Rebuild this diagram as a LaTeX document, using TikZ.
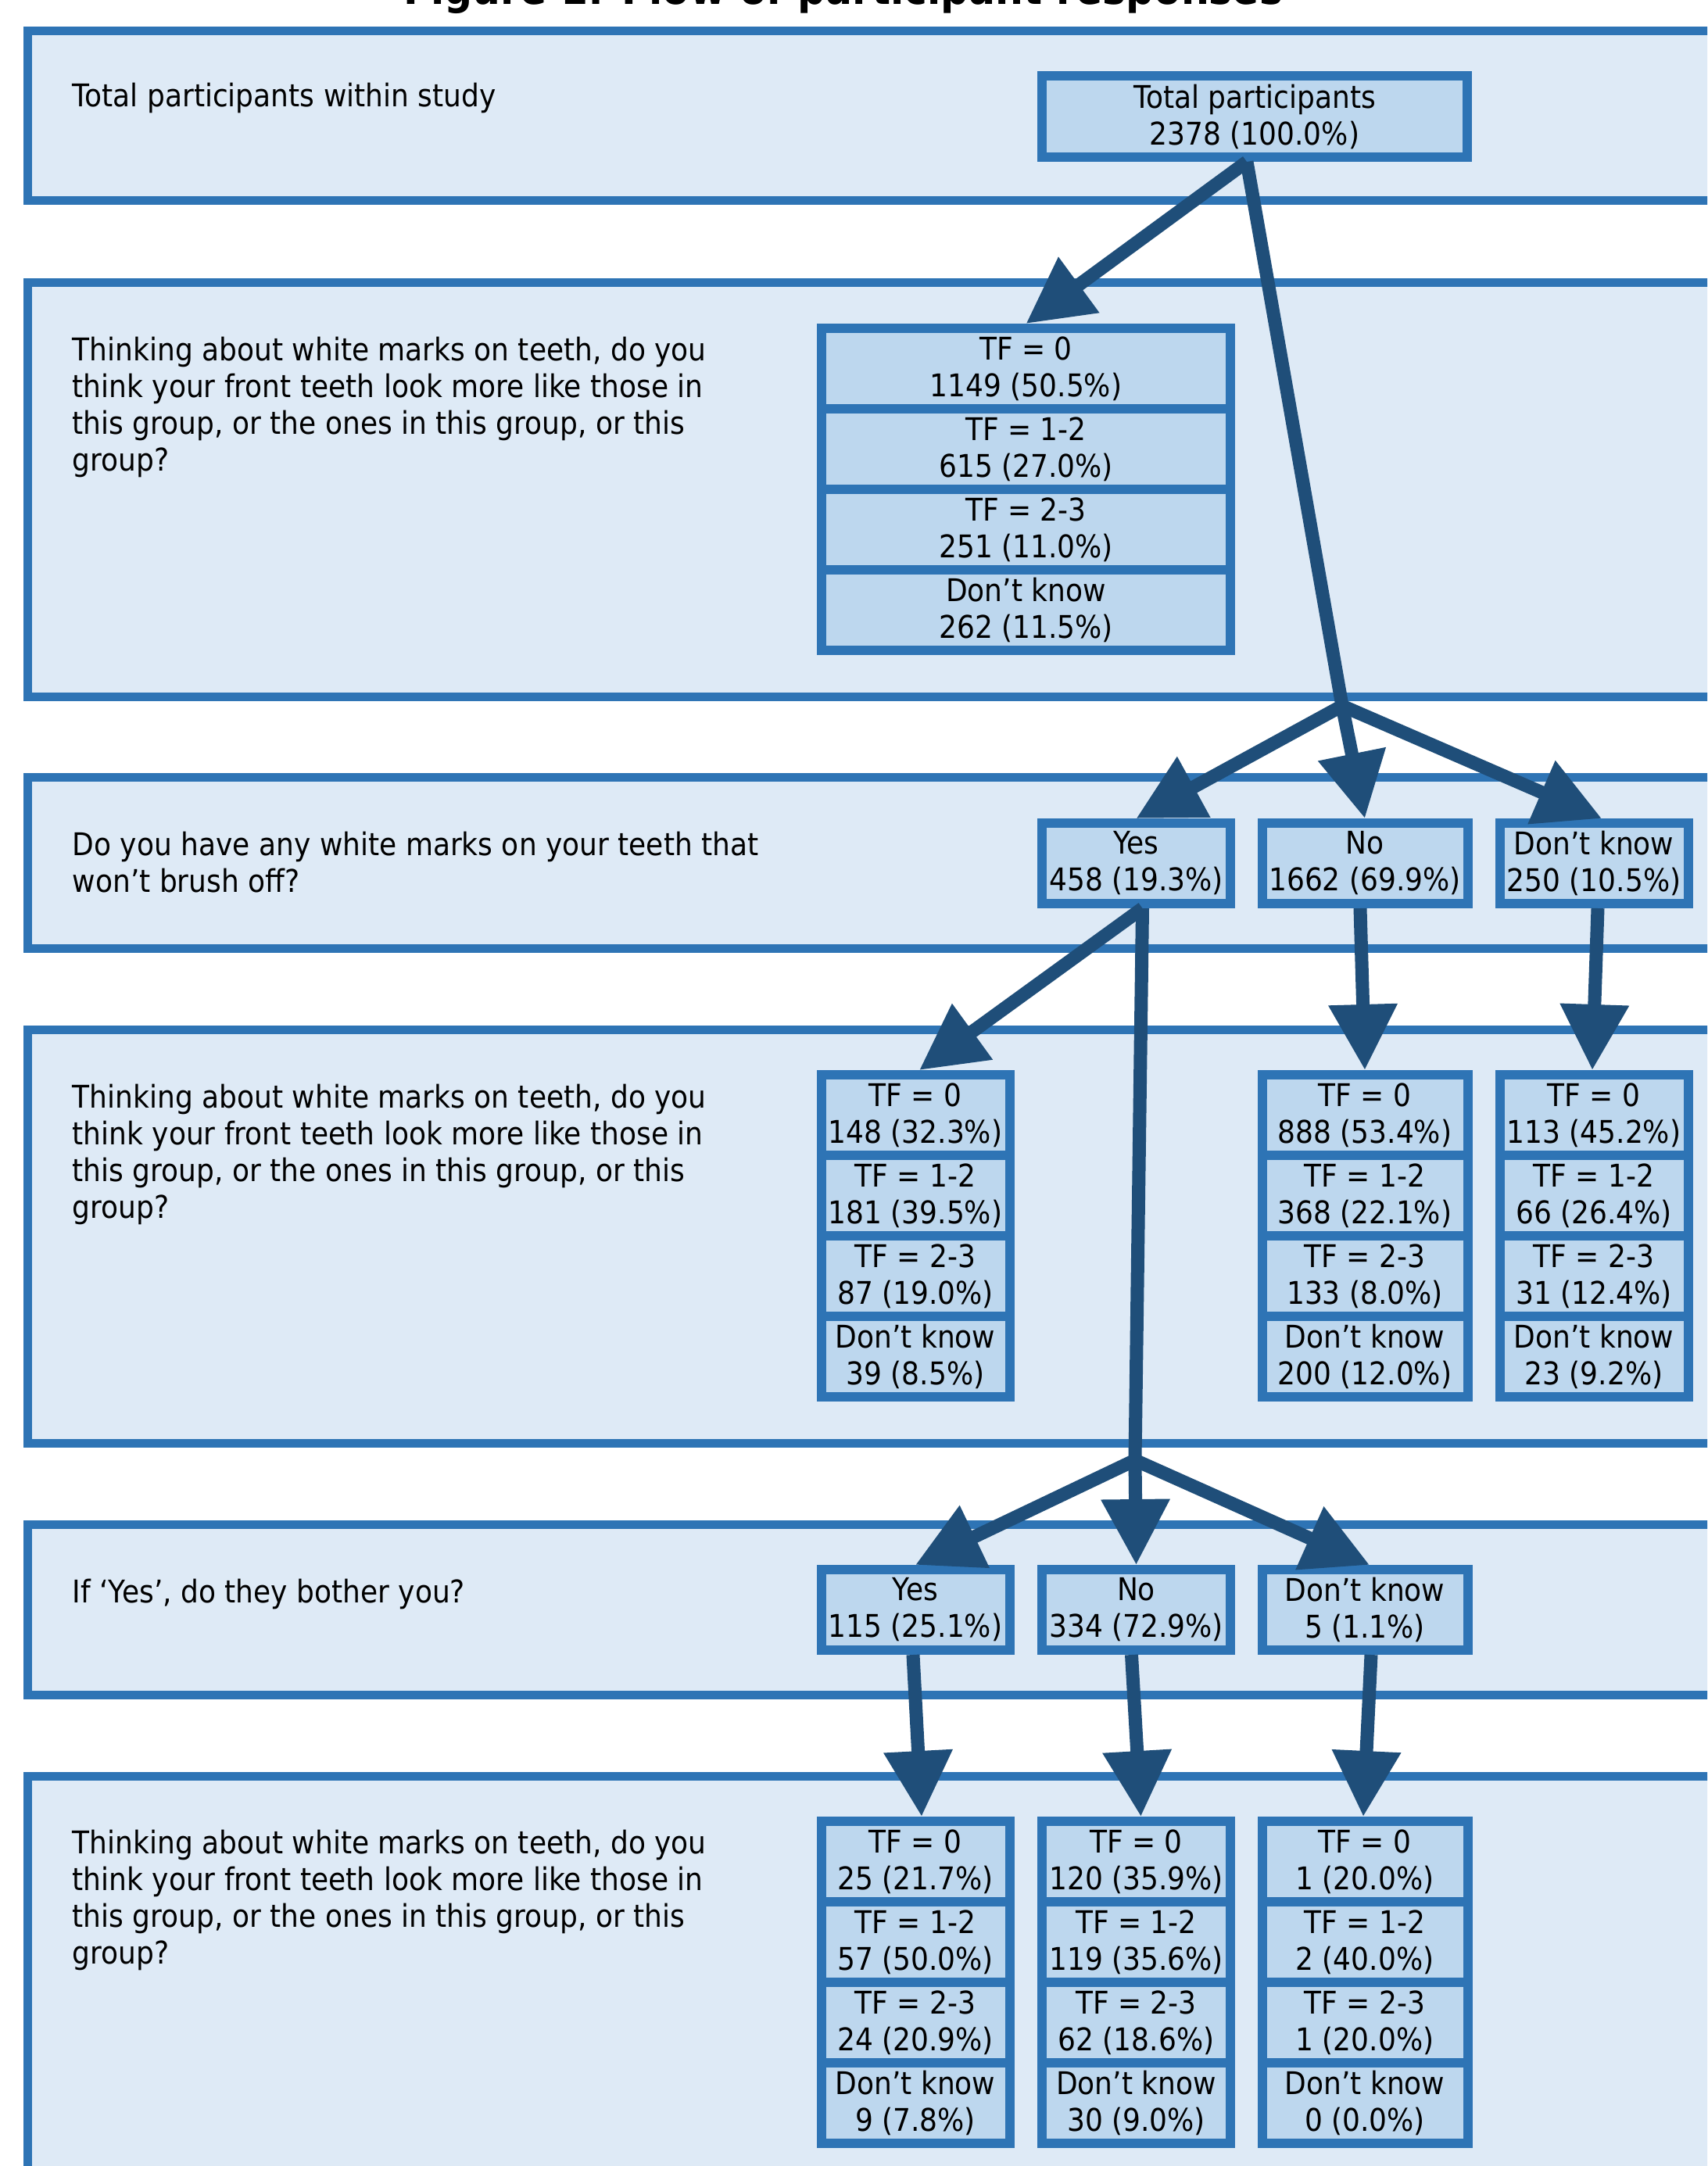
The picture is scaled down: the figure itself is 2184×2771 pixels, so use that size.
\documentclass[tikz,border=0pt]{standalone}
\usepackage{fontspec}
\setmainfont{DejaVu Sans}[FakeStretch=0.9]
\usetikzlibrary{arrows.meta}
\definecolor{panel}{HTML}{DEEAF6}
\definecolor{rim}{HTML}{2E74B5}
\definecolor{cell}{HTML}{BDD7EE}
\definecolor{navy}{HTML}{1F4E79}
\tikzset{band/.style={draw=rim,fill=panel,line width=2.75pt}, question/.style={anchor=base west,align=left,inner sep=0pt,font=\fontsize{10pt}{11.75pt}\selectfont}, heading/.style={anchor=base,inner sep=0pt,font=\fontsize{14pt}{16pt}\selectfont\bfseries}, tally/.style={draw=rim,fill=cell,line width=3pt,align=center,inner sep=0pt,minimum height=25.75pt,font=\fontsize{10pt}{11.75pt}\selectfont}, slim/.style={tally,minimum width=60.25pt}, broad/.style={tally,minimum width=65.75pt}, full/.style={tally,minimum width=130.75pt}, top/.style={tally,minimum width=136pt,minimum height=26pt}, link/.style={draw=navy,line width=4.25pt}, flow/.style={link,-{Triangle[length=21pt,width=21pt]}}}

\begin{document}
\begin{tikzpicture}[x=0.25pt,y=-0.25pt]
\useasboundingbox (0,0) rectangle (2184,2771);
\clip (0,0) rectangle (2184,2771);
% panels, one per question
\draw[band] (35,40) rectangle (2260,257);
\draw[band] (35,362) rectangle (2260,891);
\draw[band] (35,994) rectangle (2260,1213);
\draw[band] (35,1317) rectangle (2260,1846);
\draw[band] (35,1950) rectangle (2260,2168);
\draw[band] (35,2272) rectangle (2260,2900);
\node[heading] (title) at (1079,6) {Figure 1: Flow of participant responses};
% question texts (placed by the baseline of their last line)
\node[question] (qtot) at (92,137) {Total participants within study};
\node[question] (qtf) at (92,602) {Thinking about white marks on teeth, do you\\think your front teeth look more like those in\\this group, or the ones in this group, or this\\group?};
\node[question] (qmarks) at (92,1141) {Do you have any white marks on your teeth that\\won’t brush off?};
\node[question] (qtfmk) at (92,1558) {Thinking about white marks on teeth, do you\\think your front teeth look more like those in\\this group, or the ones in this group, or this\\group?};
\node[question] (qboth) at (92,2050) {If ‘Yes’, do they bother you?};
\node[question] (qtfby) at (92,2512) {Thinking about white marks on teeth, do you\\think your front teeth look more like those in\\this group, or the ones in this group, or this\\group?};
% counts
\node[top] (tot) at (1605,149) {Total participants\\2378 (100.0\%)};
\node[full] (tfall-a) at (1312.5,471.5) {TF = 0\\1149 (50.5\%)};
\node[full] (tfall-b) at (1312.5,574.5) {TF = 1-2\\615 (27.0\%)};
\node[full] (tfall-c) at (1312.5,677.5) {TF = 2-3\\251 (11.0\%)};
\node[full] (tfall-d) at (1312.5,780.5) {Don’t know\\262 (11.5\%)};
\node[slim] (mkyes) at (1453.5,1104.5) {Yes\\458 (19.3\%)};
\node[broad] (mkno) at (1746,1104.5) {No\\1662 (69.9\%)};
\node[slim] (mkdk) at (2039,1104.5) {Don’t know\\250 (10.5\%)};
\node[slim] (tfyes-a) at (1171,1426.5) {TF = 0\\148 (32.3\%)};
\node[slim] (tfyes-b) at (1171,1529.5) {TF = 1-2\\181 (39.5\%)};
\node[slim] (tfyes-c) at (1171,1632.5) {TF = 2-3\\87 (19.0\%)};
\node[slim] (tfyes-d) at (1171,1735.5) {Don’t know\\39 (8.5\%)};
\node[broad] (tfno-a) at (1746,1426.5) {TF = 0\\888 (53.4\%)};
\node[broad] (tfno-b) at (1746,1529.5) {TF = 1-2\\368 (22.1\%)};
\node[broad] (tfno-c) at (1746,1632.5) {TF = 2-3\\133 (8.0\%)};
\node[broad] (tfno-d) at (1746,1735.5) {Don’t know\\200 (12.0\%)};
\node[slim] (tfdk-a) at (2039,1426.5) {TF = 0\\113 (45.2\%)};
\node[slim] (tfdk-b) at (2039,1529.5) {TF = 1-2\\66 (26.4\%)};
\node[slim] (tfdk-c) at (2039,1632.5) {TF = 2-3\\31 (12.4\%)};
\node[slim] (tfdk-d) at (2039,1735.5) {Don’t know\\23 (9.2\%)};
\node[slim] (bothyes) at (1171,2059.5) {Yes\\115 (25.1\%)};
\node[slim] (bothno) at (1453.5,2059.5) {No\\334 (72.9\%)};
\node[broad] (bothdk) at (1746,2059.5) {Don’t know\\5 (1.1\%)};
\node[slim] (tfby-a) at (1171,2381.5) {TF = 0\\25 (21.7\%)};
\node[slim] (tfby-b) at (1171,2484.5) {TF = 1-2\\57 (50.0\%)};
\node[slim] (tfby-c) at (1171,2587.5) {TF = 2-3\\24 (20.9\%)};
\node[slim] (tfby-d) at (1171,2690.5) {Don’t know\\9 (7.8\%)};
\node[slim] (tfbn-a) at (1453.5,2381.5) {TF = 0\\120 (35.9\%)};
\node[slim] (tfbn-b) at (1453.5,2484.5) {TF = 1-2\\119 (35.6\%)};
\node[slim] (tfbn-c) at (1453.5,2587.5) {TF = 2-3\\62 (18.6\%)};
\node[slim] (tfbn-d) at (1453.5,2690.5) {Don’t know\\30 (9.0\%)};
\node[broad] (tfbd-a) at (1746,2381.5) {TF = 0\\1 (20.0\%)};
\node[broad] (tfbd-b) at (1746,2484.5) {TF = 1-2\\2 (40.0\%)};
\node[broad] (tfbd-c) at (1746,2587.5) {TF = 2-3\\1 (20.0\%)};
\node[broad] (tfbd-d) at (1746,2690.5) {Don’t know\\0 (0.0\%)};
% branch points
\coordinate (j1) at (1717,903);
\coordinate (j2) at (1452,1868);
% arrows
\draw[link] ([xshift=-2.5pt]tot.south) -- (j1);
\draw[flow] ([xshift=-2.5pt]tot.south) -- (tfall-a.north);
\draw[flow] (j1) -- (mkyes.north);
\draw[flow] (j1) -- (mkno.north);
\draw[flow] (j1) -- ([xshift=2.5pt]mkdk.north);
\draw[link] ([xshift=2pt]mkyes.south) -- (j2);
\draw[flow] ([xshift=2pt]mkyes.south) -- ([xshift=1.25pt]tfyes-a.north);
\draw[flow] ([xshift=-1.5pt]mkno.south) -- (tfno-a.north);
\draw[flow] ([xshift=1.25pt]mkdk.south) -- ([xshift=-0.5pt]tfdk-a.north);
\draw[flow] (j2) -- (bothyes.north);
\draw[flow] (j2) -- (bothno.north);
\draw[flow] (j2) -- ([xshift=1.5pt]bothdk.north);
\draw[flow] ([xshift=-0.75pt]bothyes.south) -- ([xshift=2pt]tfby-a.north);
\draw[flow] ([xshift=-1.5pt]bothno.south) -- ([xshift=1.5pt]tfbn-a.north);
\draw[flow] ([xshift=2pt]bothdk.south) -- ([xshift=-0.5pt]tfbd-a.north);
\end{tikzpicture}
\end{document}
